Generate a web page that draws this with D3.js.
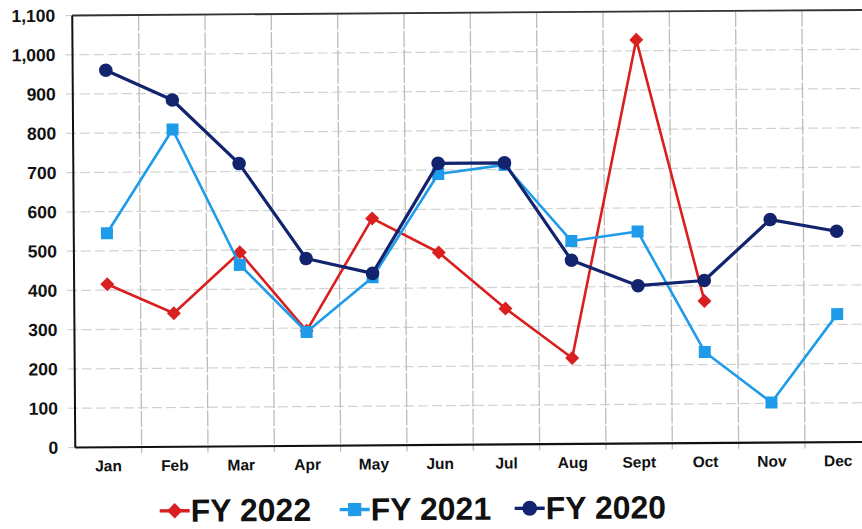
<!DOCTYPE html>
<html>
<head>
<meta charset="utf-8">
<script src="https://cdn.jsdelivr.net/npm/d3@7"></script>
<style>
  html, body { margin: 0; padding: 0; background: #fff; overflow: hidden; }
  text { font-family: "Liberation Sans", Arial, Helvetica, sans-serif; font-weight: bold; fill: #111; }
</style>
</head>
<body>
<svg id="chart" width="862" height="529"></svg>
<script>
// Monthly totals by fiscal year
const months = ["Jan", "Feb", "Mar", "Apr", "May", "Jun", "Jul", "Aug", "Sept", "Oct", "Nov", "Dec"];
const fy2022 = [415, 340, 494, 293, 578, 490, 346, 219, 1028, 362, null, null];
const fy2021 = [545, 808, 462, 290, 428, 690, 712, 517, 540, 232, 102, 326];
const fy2020 = [960, 883, 720, 477, 438, 717, 717, 468, 402, 414, 568, 537];
const seriesNames = ["FY 2022", "FY 2021", "FY 2020"];
const yTicks = [0, 100, 200, 300, 400, 500, 600, 700, 800, 900, 1000, 1100];

const W = 862, H = 529;
const plotLeft = 74, plotRight = 870, plotTop = 13, plotBottom = 445;

const svg = d3.select("#chart");
// whole sheet sits very slightly tilted
const root = svg.append("g").attr("transform", `rotate(-0.4 ${W / 2} ${H / 2})`);

const x = d3.scaleBand().domain(months).range([plotLeft, plotRight]).padding(0);
const y = d3.scaleLinear().domain([0, 1100]).range([plotBottom, plotTop]);
const cx = m => x(m) + x.bandwidth() / 2;

// gridlines
const grid = root.append("g");
grid.selectAll("line.h").data(yTicks.filter(d => d > 0)).join("line")
  .attr("x1", plotLeft - 7).attr("x2", plotRight)
  .attr("y1", d => y(d)).attr("y2", d => y(d))
  .attr("stroke", "#d2d2d2").attr("stroke-width", 1.2).attr("stroke-dasharray", "10,4");
grid.append("line")
  .attr("x1", plotLeft - 7).attr("x2", plotLeft)
  .attr("y1", y(0)).attr("y2", y(0))
  .attr("stroke", "#cdcdcd").attr("stroke-width", 1.2);
grid.selectAll("line.v").data(months.slice(1)).join("line")
  .attr("x1", d => x(d)).attr("x2", d => x(d))
  .attr("y1", plotTop).attr("y2", plotBottom + 6)
  .attr("stroke", "#bcbcbc").attr("stroke-width", 1.3).attr("stroke-dasharray", "16,2");

// plot frame
root.append("line").attr("x1", plotLeft).attr("x2", plotRight).attr("y1", plotTop).attr("y2", plotTop)
  .attr("stroke", "#333").attr("stroke-width", 1.8);
root.append("line").attr("x1", plotLeft).attr("x2", plotLeft).attr("y1", plotTop).attr("y2", plotBottom)
  .attr("stroke", "#111").attr("stroke-width", 2);
root.append("line").attr("x1", plotLeft).attr("x2", plotRight).attr("y1", plotBottom).attr("y2", plotBottom)
  .attr("stroke", "#111").attr("stroke-width", 2.2);

// axes
const yAxis = root.append("g").attr("transform", `translate(${plotLeft},0)`)
  .call(d3.axisLeft(y).tickValues(yTicks).tickFormat(d3.format(",")).tickSize(0).tickPadding(17));
yAxis.select(".domain").remove();
yAxis.selectAll("text").style("font-size", "17.5px").attr("fill", "#111");

const xAxis = root.append("g").attr("transform", `translate(0,${plotBottom})`)
  .call(d3.axisBottom(x).tickSize(0).tickPadding(13));
xAxis.select(".domain").remove();
xAxis.selectAll("text").style("font-size", "15.5px").attr("fill", "#111");

// series
const series = [
  { name: seriesNames[0], values: fy2022, color: "#d91f1f", width: 2.6, shape: "diamond" },
  { name: seriesNames[1], values: fy2021, color: "#1e9be9", width: 2.6, shape: "square" },
  { name: seriesNames[2], values: fy2020, color: "#13246f", width: 3.2, shape: "circle" }
];

function drawMarker(g, shape, color, k = 1) {
  if (shape === "circle") {
    g.append("circle").attr("r", 6.8 * k).attr("fill", color);
  } else if (shape === "square") {
    g.append("rect").attr("x", -6 * k).attr("y", -6 * k)
      .attr("width", 12 * k).attr("height", 12 * k).attr("fill", color);
  } else {
    const r = 7 * k;
    g.append("path").attr("d", `M0,${-r}L${r},0L0,${r}L${-r},0Z`).attr("fill", color);
  }
}

const line = d3.line()
  .defined(d => d.v != null)
  .x(d => cx(d.m))
  .y(d => y(d.v));

series.forEach(s => {
  const pts = months.map((m, i) => ({ m, v: s.values[i] }));
  const g = root.append("g");
  g.append("path").datum(pts)
    .attr("d", line)
    .attr("fill", "none")
    .attr("stroke", s.color)
    .attr("stroke-width", s.width)
    .attr("stroke-linejoin", "round");
  pts.filter(d => d.v != null).forEach(d => {
    const mg = g.append("g").attr("transform", `translate(${cx(d.m)},${y(d.v)})`);
    drawMarker(mg, s.shape, s.color);
  });
});

// legend
const legendX = [158, 338, 513];
const legend = root.append("g");
series.forEach((s, i) => {
  const lg = legend.append("g").attr("transform", `translate(${legendX[i]},509)`);
  lg.append("line").attr("x1", 0).attr("x2", 30).attr("y1", 0).attr("y2", 0)
    .attr("stroke", s.color).attr("stroke-width", 3.4);
  const mg = lg.append("g").attr("transform", "translate(15,0)");
  drawMarker(mg, s.shape, s.color, 1.1);
  lg.append("text").attr("x", 31).attr("y", 11)
    .style("font-size", "32px").text(s.name);
});
</script>
</body>
</html>
